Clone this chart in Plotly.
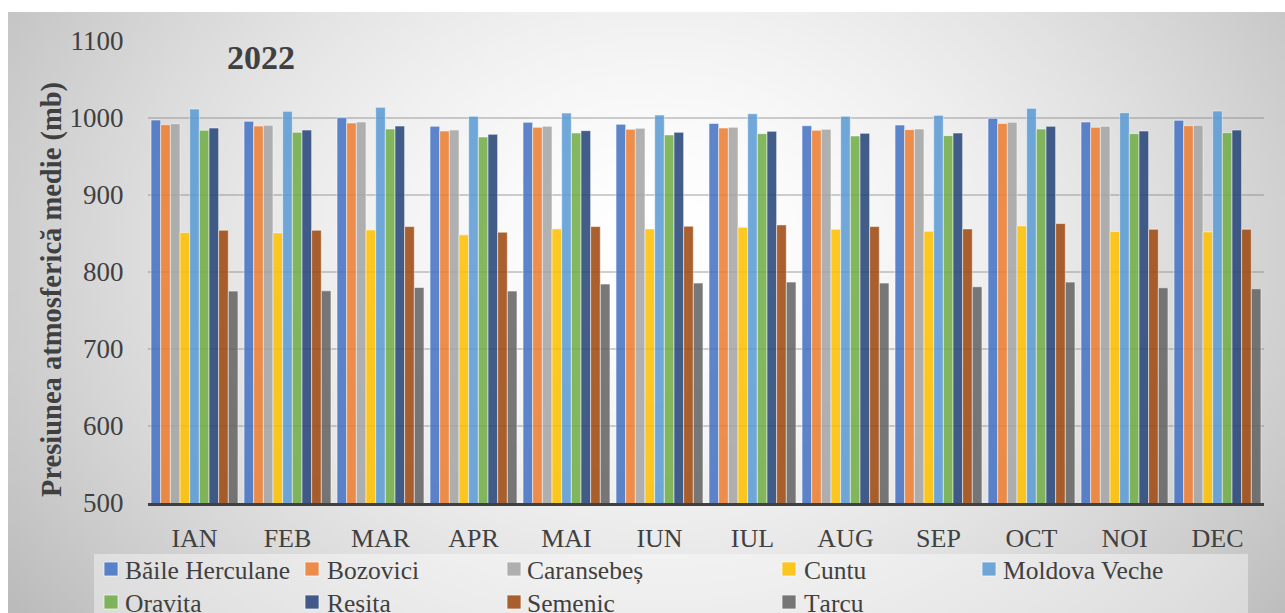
import base64
import math
import struct
import zlib

import plotly.graph_objects as go

# ---- data: mean monthly atmospheric pressure (mb), 2022 ----
months = ["IAN", "FEB", "MAR", "APR", "MAI", "IUN", "IUL", "AUG", "SEP", "OCT", "NOI", "DEC"]

baile_herculane = [997.4, 995.7, 1000.4, 989.2, 994.4, 991.8, 993.0, 990.0, 990.9, 999.6, 994.8, 997.0]
bozovici = [991.3, 989.6, 993.5, 983.1, 987.9, 985.3, 987.0, 984.0, 984.9, 993.0, 987.9, 990.0]
caransebes = [992.6, 990.5, 994.8, 984.4, 989.2, 986.6, 987.9, 985.3, 985.7, 994.4, 989.2, 990.5]
cuntu = [851.2, 850.8, 854.7, 848.3, 856.0, 856.0, 858.2, 855.6, 853.0, 859.9, 852.5, 852.1]
moldova_veche = [1011.7, 1008.7, 1013.8, 1002.2, 1006.5, 1003.9, 1005.6, 1002.2, 1003.5, 1012.6, 1006.9, 1009.1]
oravita = [984.0, 981.4, 985.7, 975.4, 980.5, 978.0, 979.7, 976.7, 977.1, 985.7, 979.7, 981.0]
resita = [987.0, 984.4, 989.6, 978.8, 983.6, 981.4, 982.7, 980.1, 980.5, 989.2, 983.1, 984.4]
semenic = [854.3, 854.3, 859.0, 851.7, 859.0, 859.5, 861.2, 859.0, 856.0, 862.9, 855.6, 855.6]
tarcu = [775.2, 775.6, 779.9, 775.2, 784.3, 785.6, 786.9, 785.6, 780.8, 786.9, 779.5, 778.2]

station_names = ["Băile Herculane", "Bozovici", "Caransebeș", "Cuntu", "Moldova Veche",
                 "Oravița", "Reșița", "Semenic", "Țarcu"]
station_values = [baile_herculane, bozovici, caransebes, cuntu, moldova_veche,
                  oravita, resita, semenic, tarcu]
station_colors = ["#4472C4", "#ED7D31", "#A5A5A5", "#FFC000", "#5B9BD5",
                  "#70AD47", "#264478", "#9E480E", "#636363"]

# ---- page geometry (pixels) ----
W, H = 1285, 613
PL, PR, PT, PB = 148, 1264, 41, 503          # plot area edges
PW, PH = PR - PL, PB - PT

FONT = "Liberation Serif"
TXT = "#404040"
BAR_OPACITY = 0.86


def px_x(x):
    return (x - PL) / PW


def px_y(y):
    return (PB - y) / PH


def gradient_png(w, h):
    """Grey radial backdrop, white in the middle, darker toward the corners."""
    rows = []
    cx, cy, rx, ry = 660.0, 250.0, 720.0, 560.0
    for j in range(h):
        py = 12 + (j + 0.5) * 601 / h
        row = bytearray([0])
        for i in range(w):
            pxx = 8 + (i + 0.5) * 1277 / w
            t = math.hypot((pxx - cx) / rx, (py - cy) / ry)
            v = 255 - 58 * t ** 1.6
            row.append(max(175, min(255, int(round(v)))))
        rows.append(bytes(row))
    raw = b"".join(rows)

    def chunk(tag, data):
        c = struct.pack(">I", len(data)) + tag + data
        return c + struct.pack(">I", zlib.crc32(tag + data) & 0xFFFFFFFF)

    png = b"\x89PNG\r\n\x1a\n"
    png += chunk(b"IHDR", struct.pack(">IIBBBBB", w, h, 8, 0, 0, 0, 0))
    png += chunk(b"IDAT", zlib.compress(raw, 9))
    png += chunk(b"IEND", b"")
    return "data:image/png;base64," + base64.b64encode(png).decode()


fig = go.Figure()

for name, vals, color in zip(station_names, station_values, station_colors):
    fig.add_trace(go.Bar(
        x=months, y=vals, name=name, showlegend=False,
        marker=dict(color=color, opacity=BAR_OPACITY,
                    line=dict(color="rgba(255,255,255,0.55)", width=1)),
    ))

# key below the axis: two rows, columns of unequal width
key_swatch_x = [104, 305, 507, 782, 982, 104, 305, 507, 782]
key_text_x = [123, 325, 525, 802, 1001, 123, 325, 525, 802]
key_row_y = [569, 569, 569, 569, 569, 602, 602, 602, 602]
SW = 14

shapes = [dict(
    type="rect", xref="paper", yref="paper", layer="below",
    x0=px_x(94), x1=px_x(1248), y0=px_y(613), y1=px_y(554),
    fillcolor="rgba(255,255,255,0.4)", line=dict(width=0),
)]
annotations = [dict(
    text="<b>Presiunea atmosferică medie (mb)</b>", textangle=-90,
    xref="paper", yref="paper", x=px_x(52), y=px_y(290),
    xanchor="center", yanchor="middle", showarrow=False,
    font=dict(family=FONT, size=28.5, color=TXT),
)]
for name, color, sx, tx, ry in zip(station_names, station_colors,
                                   key_swatch_x, key_text_x, key_row_y):
    shapes.append(dict(
        type="rect", xref="paper", yref="paper", layer="above",
        x0=px_x(sx), x1=px_x(sx + SW), y0=px_y(ry + SW / 2), y1=px_y(ry - SW / 2),
        fillcolor=color, opacity=BAR_OPACITY,
        line=dict(color="rgba(255,255,255,0.7)", width=1),
    ))
    annotations.append(dict(
        text=name, xref="paper", yref="paper",
        x=px_x(tx), y=px_y(ry + 1), xanchor="left", yanchor="middle",
        showarrow=False, font=dict(family=FONT, size=25.5, color=TXT),
    ))

fig.update_layout(
    width=W, height=H,
    margin=dict(l=PL, r=W - PR, t=PT, b=H - PB, autoexpand=False),
    font=dict(family=FONT, size=26, color=TXT),
    paper_bgcolor="white",
    plot_bgcolor="rgba(0,0,0,0)",
    barmode="group", bargap=0.065, bargroupgap=0,
    showlegend=False,
    title=dict(text="<b>2022</b>", x=261 / W, xanchor="center",
               y=1 - 57 / H, yanchor="middle",
               font=dict(family=FONT, size=34, color=TXT)),
    xaxis=dict(
        showgrid=False, showline=True, linecolor=TXT, linewidth=3,
        ticks="outside", ticklen=10, tickcolor="rgba(0,0,0,0)",
        tickfont=dict(family=FONT, size=26, color=TXT),
    ),
    yaxis=dict(
        range=[500, 1100], tickvals=[500, 600, 700, 800, 900, 1000, 1100],
        showgrid=True, gridcolor="rgba(128,128,128,0.38)", gridwidth=1.5,
        zeroline=False, showline=False,
        ticks="outside", ticklen=18, tickcolor="rgba(0,0,0,0)",
        tickfont=dict(family=FONT, size=27, color=TXT),
    ),
    images=[dict(
        source=gradient_png(320, 150), xref="paper", yref="paper",
        x=px_x(8), y=px_y(12), sizex=1277 / PW, sizey=601 / PH,
        xanchor="left", yanchor="top", sizing="stretch", layer="below",
    )],
    shapes=shapes,
    annotations=annotations,
)

fig.write_html("out.html")
